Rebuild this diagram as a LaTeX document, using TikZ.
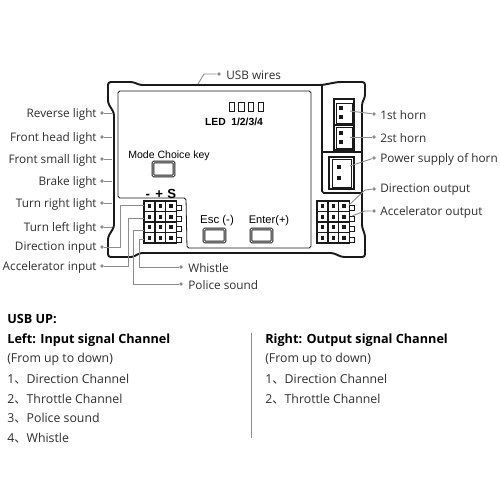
\documentclass[tikz,border=0pt]{standalone}
\usepackage{fontspec}
\setmainfont{Open Sans}
\newfontfamily\armfont{Liberation Sans}
\newfontfamily\cjk{Noto Sans CJK SC}
\usetikzlibrary{positioning, calc}
\definecolor{leadgray}{HTML}{8C8C8C}
\definecolor{boardblack}{HTML}{1A1A1A}
\definecolor{txtgray}{HTML}{2E2E2E}
\tikzset{
  lbl/.style={font=\fontsize{6.7}{8}\selectfont, text=txtgray, inner sep=0pt, yshift=-0.2mm},
  heading/.style={font=\fontsize{7.2}{8}\selectfont\bfseries, text=black, inner sep=0pt, anchor=west, yshift=-0.2mm},
  body/.style={font=\fontsize{7}{8}\selectfont, text=txtgray, inner sep=0pt, anchor=west, yshift=-0.2mm},
  silk/.style={font=\armfont\fontsize{6}{7}\selectfont, text=black, inner sep=0pt, yshift=-0.3mm},
  lead/.style={leadgray, line width=0.5pt},
  tipdot/.style={circle, fill=leadgray, inner sep=0pt, minimum size=2.2pt},
  btn/.style={draw=boardblack, line width=0.5pt, rounded corners=0.6pt, double=white, double distance=0.5pt},
}
\begin{document}
\begin{tikzpicture}[x=0.2mm,y=-0.2mm]
  \useasboundingbox (0,0) rectangle (500,500);
  % board outline
  \draw[boardblack, line width=1.1pt, line join=round, rounded corners=1.5pt]
    (108,103)--(108,82)--(133,82)--(140,85)--(322,85)--(338,82)--(365,82)--(365,97)--(362,103)
    --(362,227)--(365,235)--(365,257)--(342,257)--(333,253)--(140,253)--(133,257)--(108,257)
    --(108,237)--(114,227)--(114,113)--cycle;
  % screen area
  \draw[boardblack, line width=0.45pt, rounded corners=1pt]
    (118,91)--(311,91)--(311,248)--(187,248)--(186,198)--(118,198)--cycle;
  % horn compartment
  \draw[boardblack, line width=0.9pt, rounded corners=1pt] (322,85)--(322,193)--(362,193);
  \draw[boardblack, line width=0.9pt] (322,152)--(362,152);
  % horn sockets
  \draw[boardblack, line width=0.9pt] (334,99) rectangle (354,150);
  \draw[boardblack, line width=0.9pt] (334,125)--(354,125);
  \draw[boardblack, line width=0.9pt] (329,157) rectangle (354,189);
  \draw[boardblack, line width=0.4pt, fill=white] (336,103) rectangle (352,123);
  \draw[boardblack, line width=0.4pt, fill=white] (336,127) rectangle (352,148);
  \draw[boardblack, line width=0.4pt, fill=white] (332,159) rectangle (351,187);
  \foreach \x/\y in {341/108, 341/117, 341/133, 341/142, 339/167, 339/178}{
    \fill[boardblack] (\x-1.8,\y-1.8) rectangle (\x+1.8,\y+1.8);
  }
  % pin headers
  \foreach \gx in {144,317}{
    \foreach \i in {0,1,2,3}{
      \draw[boardblack, line width=0.5pt] (\gx+32.5,205.5+\i*10.5) rectangle (\gx+37.5,210.5+\i*10.5);
      \foreach \j in {0,1,2}{
        \draw[boardblack, line width=0.7pt] (\gx+\j*10.9,201+\i*10.5) rectangle ++(10.9,10.5);
        \fill[boardblack] (\gx+5.4+\j*10.9-1.8,206.2+\i*10.5-1.8) rectangle ++(3.6,3.6);
      }
    }
    \draw[boardblack, line width=0.9pt] (\gx,201) rectangle ++(32.7,42);
  }
  % leds
  \foreach \x in {229,238.7,248.4,258}{
    \draw[boardblack, line width=0.5pt] (\x,102) rectangle ++(5.5,9);
  }
  \node[silk, font=\armfont\fontsize{5.9}{7}\selectfont\bfseries] (ledtext) at (234,120) {LED\hspace{1.5pt} 1/2/3/4};
  \node[silk] (modetext) at (169,154) {Mode Choice key};
  \node[silk, font=\armfont\fontsize{6.5}{7}\selectfont] (esctext) at (217,219) {Esc (-)};
  \node[silk, font=\armfont\fontsize{6.3}{7}\selectfont] (entertext) at (269,219) {Enter(+)};
  \node[silk, font=\armfont\fontsize{7.5}{8}\selectfont\bfseries] (pintext) at (161,192) {-\hspace{3pt}+\hspace{2.5pt}S};
  \draw[btn] (153,162) rectangle (174,176);
  \draw[btn] (204,229) rectangle (225,242);
  \draw[btn] (251,229) rectangle (272,242);
  % left labels
  \foreach \n/\y/\t in {rev/113/Reverse light, head/137/Front head light, small/159/Front small light,
    brake/181/Brake light, tright/203/Turn right light, tleft/227/Turn left light,
    dirin/247/Direction input, accin/266/Accelerator input}{
    \node[lbl, anchor=east] (\n) at (97,\y) {\t};
    \node[tipdot] (\n dot) at (102,\y) {};
  }
  \coordinate (revend) at (112,113);
  \coordinate (headend) at (112,137);
  \coordinate (smallend) at (112,159);
  \coordinate (brakeend) at (112,181);
  \coordinate (trightend) at (112,203);
  \coordinate (tleftend) at (112,227);
  \foreach \n in {rev,head,small,brake,tright,tleft}{
    \draw[lead] (\n dot) -- (\n end);
  }
  \coordinate (pindir) at (144,205);
  \coordinate (pinacc) at (144,218);
  \coordinate (pinpol) at (144,230);
  \coordinate (pinwhi) at (144,239);
  \draw[lead] (dirindot) -- (120,247) -- (120,205) -- (pindir);
  \draw[lead] (accindot) -- (128,266) -- (128,218) -- (pinacc);
  % bottom labels
  \node[tipdot] (whistledot) at (181,267) {};
  \node[tipdot] (policedot) at (181,284) {};
  \node[lbl, anchor=west] (whistle) at (188,267) {Whistle};
  \node[lbl, anchor=west] (police) at (188,284) {Police sound};
  \draw[lead] (whistledot) -- (139,267) -- (139,239) -- (pinwhi);
  \draw[lead] (policedot) -- (133,284) -- (133,230) -- (pinpol);
  % usb
  \coordinate (usbend) at (198,84);
  \node[tipdot] (usbdot) at (219,74) {};
  \node[lbl, anchor=west] (usb) at (226,74) {USB wires};
  \draw[lead] (usbend) -- (204,74) -- (usbdot);
  % right labels
  \foreach \n/\y/\t in {hornone/114/1st horn, horntwo/137/2st horn, hornpow/158/Power supply of horn,
    dirout/189/Direction output, accout/211/Accelerator output}{
    \node[lbl, anchor=west] (\n) at (380,\y) {\t};
    \node[tipdot] (\n dot) at (374,\y) {};
  }
  \coordinate (hornoneend) at (350,111);
  \coordinate (horntwoend) at (350,137);
  \coordinate (hornpowend) at (350,166);
  \coordinate (diroutend) at (349,205);
  \coordinate (accoutend) at (352,216);
  \draw[lead] (hornoneend) -- (hornonedot);
  \draw[lead] (horntwoend) -- (horntwodot);
  \draw[lead] (hornpowend) -- (hornpowdot);
  \draw[lead] (diroutend) -- (365,190) -- (diroutdot);
  \draw[lead] (accoutend) -- (365,211) -- (accoutdot);
  % channel notes
  \node[heading] (usbup) at (7,318) {USB UP:};
  \node[heading] (lefthead) at (7,339) {Left: Input signal Channel};
  \node[body] (leftnote) at (7,358) {(From up to down)};
  \node[body] (leftone) at (7,378) {1{\cjk 、}Direction Channel};
  \node[body] (lefttwo) at (7,398) {2{\cjk 、}Throttle Channel};
  \node[body] (leftthree) at (7,417) {3{\cjk 、}Police sound};
  \node[body] (leftfour) at (7,437) {4{\cjk 、}Whistle};
  \node[heading] (righthead) at (265,339) {Right: Output signal Channel};
  \node[body] (rightnote) at (265,358) {(From up to down)};
  \node[body] (rightone) at (265,378) {1{\cjk 、}Direction Channel};
  \node[body] (righttwo) at (265,398) {2{\cjk 、}Throttle Channel};
  \draw[leadgray, line width=0.4pt] (251,333) -- (251,438);
\end{tikzpicture}
\end{document}
